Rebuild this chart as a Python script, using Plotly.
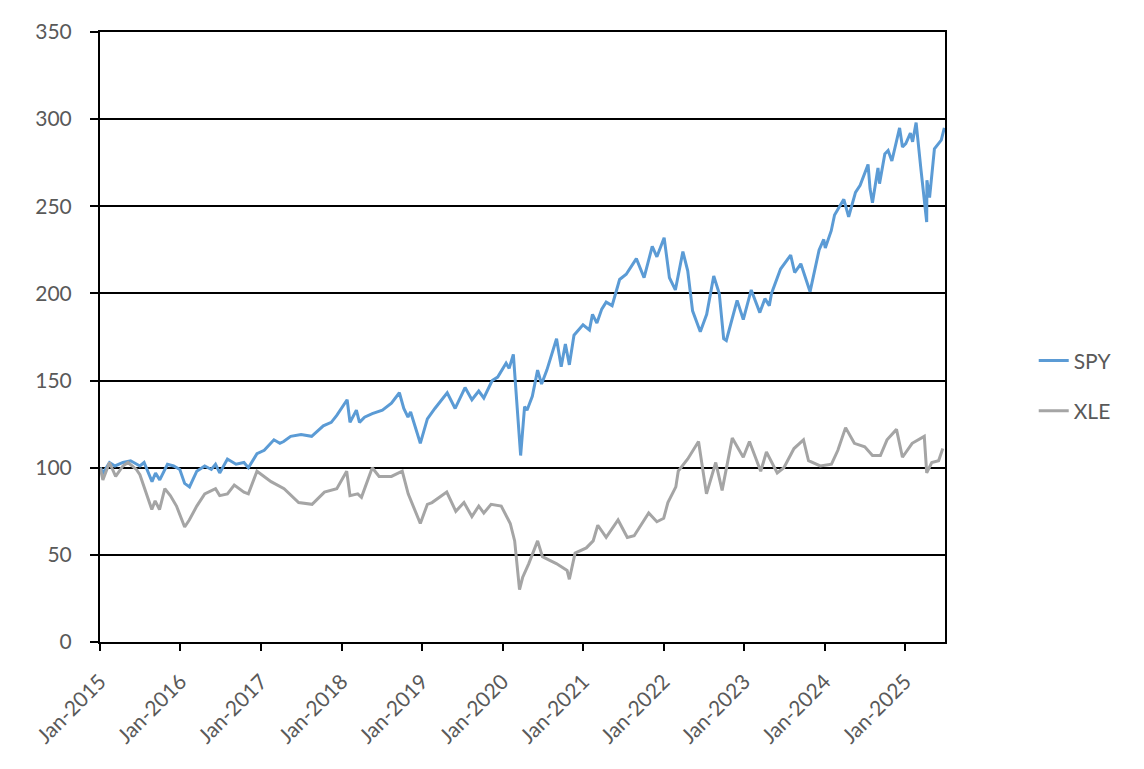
import plotly.graph_objects as go

# SPY, rebased to 100 at Jan-2015
spy_dates = [
    "2015-01-02", "2015-01-15", "2015-02-13", "2015-03-10", "2015-04-15", "2015-05-20",
    "2015-07-01", "2015-07-20", "2015-08-25", "2015-09-10", "2015-09-29", "2015-11-03",
    "2015-12-01", "2015-12-29", "2016-01-20", "2016-02-11", "2016-03-15", "2016-04-20",
    "2016-05-20", "2016-06-08", "2016-06-27", "2016-08-01", "2016-09-09", "2016-10-15",
    "2016-11-04", "2016-12-13", "2017-01-15", "2017-02-28", "2017-03-27", "2017-04-13",
    "2017-05-15", "2017-07-01", "2017-08-18", "2017-09-15", "2017-10-10", "2017-11-15",
    "2017-12-10", "2018-01-26", "2018-02-08", "2018-03-09", "2018-03-23", "2018-04-15",
    "2018-05-20", "2018-07-05", "2018-08-15", "2018-09-20", "2018-10-10", "2018-10-29",
    "2018-11-10", "2018-12-24", "2019-01-25", "2019-02-28", "2019-04-25", "2019-05-31",
    "2019-07-15", "2019-08-15", "2019-09-15", "2019-10-08", "2019-11-15", "2019-12-10",
    "2020-01-17", "2020-01-31", "2020-02-19", "2020-03-23", "2020-04-10", "2020-04-21",
    "2020-05-15", "2020-06-08", "2020-06-26", "2020-07-20", "2020-09-02", "2020-09-23",
    "2020-10-12", "2020-10-30", "2020-11-20", "2020-12-31", "2021-01-29", "2021-02-12",
    "2021-03-04", "2021-03-26", "2021-04-15", "2021-05-12", "2021-06-15", "2021-07-15",
    "2021-08-30", "2021-10-04", "2021-11-10", "2021-12-01", "2022-01-03", "2022-01-27",
    "2022-02-23", "2022-03-29", "2022-04-20", "2022-05-12", "2022-06-16", "2022-07-15",
    "2022-08-16", "2022-09-10", "2022-09-30", "2022-10-12", "2022-11-30", "2022-12-28",
    "2023-02-02", "2023-03-13", "2023-04-05", "2023-04-25", "2023-05-05", "2023-06-15",
    "2023-07-31", "2023-08-18", "2023-09-15", "2023-10-27", "2023-12-07", "2023-12-28",
    "2024-01-04", "2024-01-31", "2024-02-15", "2024-03-28", "2024-04-19", "2024-05-20",
    "2024-06-10", "2024-07-16", "2024-07-25", "2024-08-05", "2024-08-30", "2024-09-06",
    "2024-09-30", "2024-10-15", "2024-11-01", "2024-12-06", "2024-12-19", "2025-01-03",
    "2025-01-24", "2025-02-03", "2025-02-19", "2025-03-13", "2025-04-08", "2025-04-09",
    "2025-04-21", "2025-05-13", "2025-06-13", "2025-06-27",
]
spy_values = [
    100, 97, 103, 101, 103, 104,
    101, 103, 92, 97, 93, 102,
    101, 99, 91, 89, 98, 101,
    99, 102, 97, 105, 102, 103,
    100, 108, 110, 116, 114, 115,
    118, 119, 118, 121, 124, 126,
    130, 139, 126, 133, 126, 129,
    131, 133, 137, 143, 134, 129,
    132, 114, 128, 134, 143, 134,
    146, 139, 144, 140, 150, 152,
    160, 157, 165, 107, 135, 133,
    141, 156, 148, 156, 174, 158,
    171, 159, 176, 182, 179, 188,
    183, 191, 195, 193, 208, 211,
    220, 209, 227, 221, 232, 209,
    202, 224, 213, 190, 178, 188,
    210, 200, 174, 173, 196, 185,
    202, 189, 197, 193, 200, 214,
    222, 212, 217, 201, 225, 231,
    226, 236, 245, 254, 244, 258,
    262, 274, 260, 252, 272, 263,
    280, 282, 276, 295, 284, 286,
    292, 287, 298, 271, 241, 265,
    255, 283, 288, 295,
]

# XLE, rebased to 100 at Jan-2015
xle_dates = [
    "2015-01-02", "2015-01-14", "2015-02-13", "2015-03-13", "2015-04-15", "2015-05-08",
    "2015-06-15", "2015-07-01", "2015-08-24", "2015-09-08", "2015-09-28", "2015-10-22",
    "2015-11-16", "2015-12-14", "2016-01-20", "2016-02-10", "2016-03-15", "2016-04-20",
    "2016-06-08", "2016-06-27", "2016-08-01", "2016-09-01", "2016-10-15", "2016-11-04",
    "2016-12-13", "2017-02-15", "2017-04-15", "2017-06-20", "2017-08-20", "2017-10-15",
    "2017-12-10", "2018-01-24", "2018-02-08", "2018-03-15", "2018-04-01", "2018-05-20",
    "2018-06-20", "2018-08-15", "2018-10-03", "2018-10-30", "2018-12-24", "2019-01-25",
    "2019-02-15", "2019-04-23", "2019-06-03", "2019-07-10", "2019-08-15", "2019-09-15",
    "2019-10-08", "2019-11-10", "2019-12-26", "2020-02-05", "2020-02-25", "2020-03-18",
    "2020-04-01", "2020-04-29", "2020-06-08", "2020-06-30", "2020-07-31", "2020-09-01",
    "2020-10-20", "2020-10-30", "2020-11-25", "2020-12-15", "2021-01-15", "2021-02-15",
    "2021-03-08", "2021-04-15", "2021-06-08", "2021-07-20", "2021-08-20", "2021-10-25",
    "2021-12-01", "2022-01-01", "2022-01-20", "2022-02-25", "2022-03-08", "2022-04-20",
    "2022-06-08", "2022-07-14", "2022-08-25", "2022-09-23", "2022-11-08", "2022-12-28",
    "2023-01-25", "2023-03-17", "2023-04-12", "2023-05-31", "2023-06-30", "2023-08-15",
    "2023-09-27", "2023-10-20", "2023-12-12", "2024-02-01", "2024-03-01", "2024-04-05",
    "2024-05-15", "2024-07-01", "2024-08-05", "2024-09-10", "2024-10-10", "2024-11-22",
    "2024-12-19", "2025-02-01", "2025-03-28", "2025-04-08", "2025-05-01", "2025-06-01",
    "2025-06-20",
]
xle_values = [
    100, 93, 103, 95, 101, 103,
    99, 96, 76, 81, 76, 88,
    84, 78, 66, 70, 78, 85,
    88, 84, 85, 90, 86, 85,
    98, 92, 88, 80, 79, 86,
    88, 98, 84, 85, 83, 100,
    95, 95, 98, 85, 68, 79,
    80, 86, 75, 80, 72, 78,
    74, 79, 78, 68, 58, 30,
    37, 45, 58, 49, 47, 45,
    41, 36, 51, 52, 54, 58,
    67, 60, 70, 60, 61, 74,
    69, 71, 80, 89, 98, 105,
    115, 85, 103, 87, 117, 106,
    115, 98, 109, 97, 100, 111,
    116, 104, 101, 102, 110, 123,
    114, 112, 107, 107, 116, 122,
    106, 114, 118, 97, 103, 104,
    111,
]

tick_font = dict(family="Lato, Open Sans, sans-serif", size=21, color="#595959")

fig = go.Figure()
fig.add_trace(go.Scatter(x=spy_dates, y=spy_values, name="SPY", mode="lines",
                         legendgroup="a", line=dict(color="#5B9BD5", width=3)))
fig.add_trace(go.Scatter(x=xle_dates, y=xle_values, name="XLE", mode="lines",
                         legendgroup="b", line=dict(color="#A5A5A5", width=3)))

# the page body adds an 8px offset, so margins are shifted to compensate
fig.update_layout(
    width=1144,
    height=769,
    margin=dict(l=92, r=207, t=24, b=135),
    plot_bgcolor="white",
    paper_bgcolor="white",
    font=tick_font,
    legend=dict(x=1.105, y=0.42, yanchor="middle", font=tick_font,
                tracegroupgap=20, bgcolor="rgba(0,0,0,0)"),
    xaxis=dict(
        range=["2015-01-01", "2025-06-30"],
        tick0="2015-01-01",
        dtick="M12",
        tickformat="%b-%Y",
        tickangle=-45,
        ticks="outside",
        ticklen=7,
        tickcolor="black",
        tickwidth=2,
        ticklabelstandoff=10,
        showgrid=False,
        showline=True,
        linecolor="black",
        linewidth=2,
        mirror=True,
        automargin=False,
        tickfont=tick_font,
    ),
    yaxis=dict(
        range=[0, 350],
        dtick=50,
        ticks="outside",
        ticklen=8,
        tickcolor="black",
        tickwidth=2,
        ticklabelstandoff=14,
        showgrid=True,
        gridcolor="black",
        gridwidth=1.5,
        showline=True,
        linecolor="black",
        linewidth=2,
        mirror=True,
        zeroline=False,
        automargin=False,
        tickfont=tick_font,
    ),
)

fig.write_html("out.html")
